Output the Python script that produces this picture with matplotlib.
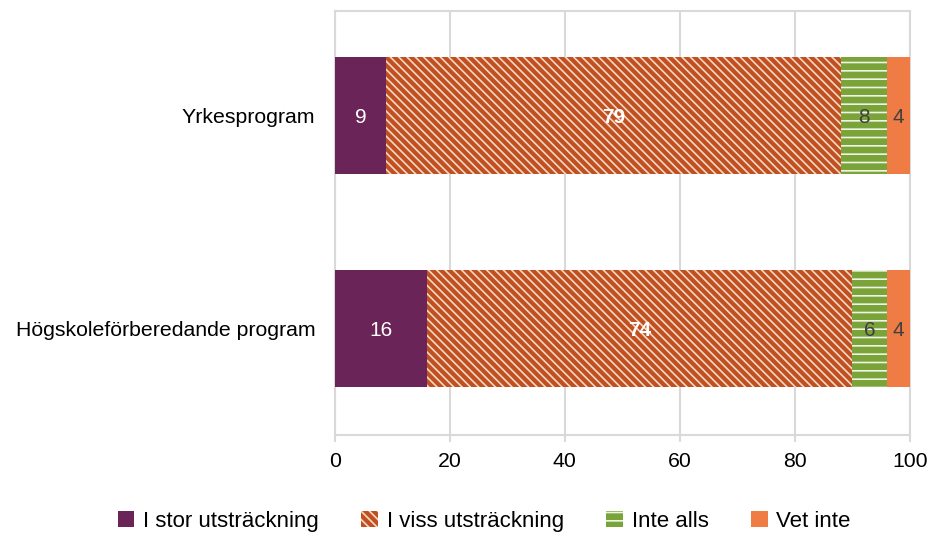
import matplotlib.pyplot as plt
import numpy as np

plt.rcParams['font.family'] = ['Liberation Sans', 'DejaVu Sans']
plt.rcParams['hatch.linewidth'] = 1.2

categories = ['Yrkesprogram', 'Högskoleförberedande program']
series = ['I stor utsträckning', 'I viss utsträckning', 'Inte alls', 'Vet inte']
values = {
    'I stor utsträckning': [9, 16],
    'I viss utsträckning': [79, 74],
    'Inte alls': [8, 6],
    'Vet inte': [4, 4],
}
colors = ['#6B2458', '#C0501F', '#7AA33A', '#F07C45']
hatches = [None, '\\\\\\\\', '--', None]
hatch_colors = ['white', '#F5D8C8', '#EEF4E4', 'white']
label_colors = ['white', 'white', '#404040', '#404040']
label_weights = ['normal', 'bold', 'normal', 'normal']

fig = plt.figure(figsize=(9.35, 5.34), dpi=100)
ax = fig.add_axes([0.358, 0.185, 0.615, 0.794])

y = np.arange(len(categories))
left = np.zeros(len(categories))
for i, s in enumerate(series):
    v = np.array(values[s], dtype=float)
    bars = ax.barh(y, v, left=left, height=0.55, color=colors[i],
                   hatch=hatches[i], edgecolor=hatch_colors[i], linewidth=0,
                   label=s, zorder=3)
    for b, val, l in zip(bars, v, left):
        ax.text(l + val / 2, b.get_y() + b.get_height() / 2 + 0.01, f'{val:.0f}',
                ha='center', va='center', fontsize=15,
                color=label_colors[i], fontweight=label_weights[i], zorder=4)
    left += v

ax.set_xlim(0, 100)
ax.set_ylim(1.5, -0.49)
ax.set_yticks(y)
ax.set_yticklabels(categories, fontsize=15.3)
ax.set_xticks(np.arange(0, 101, 20))
ax.tick_params(axis='x', labelsize=15.3, length=5, color='#D9D9D9', width=1.5, pad=7)
ax.tick_params(axis='y', length=0, pad=14)
ax.grid(axis='x', color='#D9D9D9', linewidth=1.5, zorder=0)
for sp in ax.spines.values():
    sp.set_color('#D9D9D9')
    sp.set_linewidth(1.5)

leg = fig.legend(loc='lower center', bbox_to_anchor=(0.518, -0.033), ncol=4,
                 frameon=False, fontsize=16, handlelength=0.75,
                 handleheight=0.75, handletextpad=0.4, columnspacing=1.9)

fig.savefig('out.png', dpi=100)
